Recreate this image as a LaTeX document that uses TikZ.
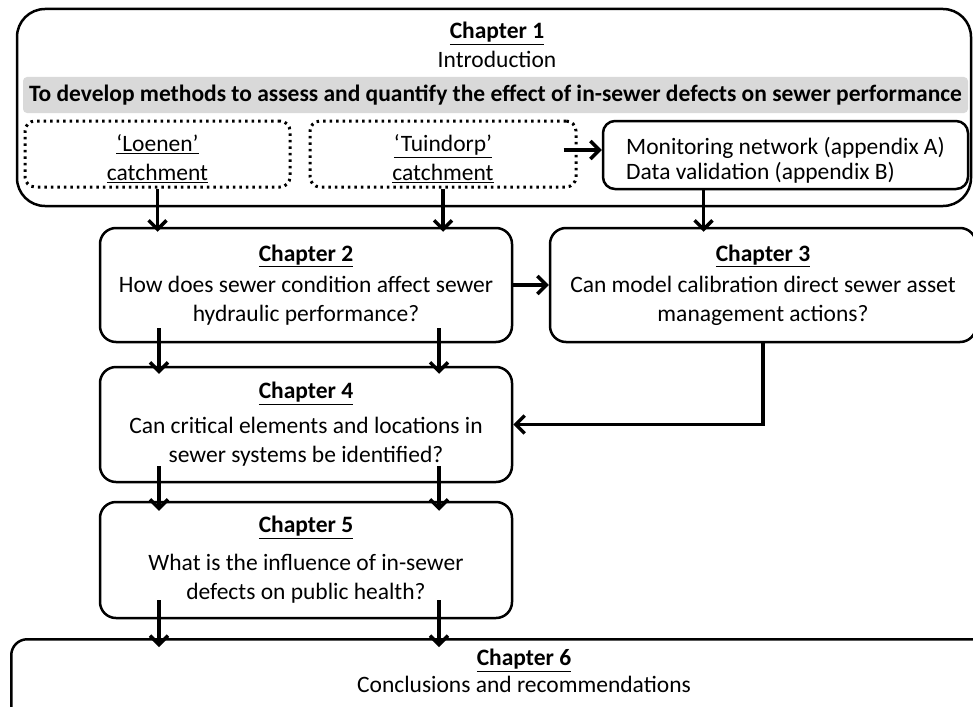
\documentclass[tikz,border=0pt]{standalone}
\usepackage{fontspec}
\setmainfont{Carlito}
\usetikzlibrary{arrows.meta,calc}

\newcommand{\chap}[1]{\underline{\textbf{#1}}}

\begin{document}
\begin{tikzpicture}[x=1pt,y=-1pt,
  font=\fontsize{23.5}{29}\selectfont,
  chapbox/.style={draw,line width=2.5pt,rounded corners=16pt,align=center,inner sep=0pt},
  catbox/.style={draw,line width=3pt,dash pattern=on 2.5pt off 4pt,rounded corners=10pt,inner sep=0pt},
  arr/.style={line width=3.4pt,-{Straight Barb[length=9pt,width=18pt]}}]
\useasboundingbox (0,0) rectangle (973,706);

% chapter 1 with the two catchments
\node[chapbox,rounded corners=28pt,minimum width=954pt,minimum height=197pt] (ch1) at (494,107.5) {};
\node[align=center] (ch1txt) at (497,45) {\chap{Chapter 1}\\Introduction};
\node[fill=black!15,rounded corners=4pt,minimum width=945pt,minimum height=36pt,inner sep=0pt,font=\fontsize{23.5}{24}\selectfont\bfseries] (aim) at (495.5,95) {To develop methods to assess and quantify the effect of in-sewer defects on sewer performance};
\node[catbox,minimum width=265pt,minimum height=66pt] (loenen) at (157.5,154) {};
\node[align=center] (loenentxt) at (157.5,159) {\underline{‘Loenen’}\\\underline{catchment}};
\node[catbox,minimum width=266pt,minimum height=66pt] (tuin) at (443,154) {};
\node[align=center] (tuintxt) at (443,159) {\underline{‘Tuindorp’}\\\underline{catchment}};
\node[chapbox,rounded corners=12pt,minimum width=365pt,minimum height=68pt] (mon) at (785.5,155) {};
\node[align=left,font=\fontsize{23.5}{25}\selectfont] (montxt) at (785.5,160) {Monitoring network (appendix A)\\Data validation (appendix B)};

% the chapters
\node[chapbox,minimum width=412pt,minimum height=114pt] (ch2) at (306,285) {\chap{Chapter 2}\\[2pt]How does sewer condition affect sewer\\hydraulic performance?};
\node[chapbox,minimum width=426pt,minimum height=114pt] (ch3) at (763,285) {\chap{Chapter 3}\\[2pt]Can model calibration direct sewer asset\\management actions?};
\node[chapbox,minimum width=412pt,minimum height=115pt] (ch4) at (306,424.5) {\chap{Chapter 4}\\[6pt]Can critical elements and locations in\\sewer systems be identified?};
\node[chapbox,minimum width=412pt,minimum height=116pt] (ch5) at (306,560) {\chap{Chapter 5}\\[9pt]What is the influence of in-sewer\\defects on public health?};
\node[chapbox,minimum width=985pt,minimum height=100pt,anchor=north west] (ch6) at (10,638) {};
\node[align=center,font=\fontsize{23.5}{27}\selectfont] (ch6txt) at (524,671) {\chap{Chapter 6}\\Conclusions and recommendations};

\coordinate (colA) at (159,0);
\coordinate (colB) at (439,0);

% arrows
\draw[arr] (loenen.south) -- ($(loenen.south |- ch2.north)+(0,5)$);
\draw[arr] (tuin.south) -- ($(tuin.south |- ch2.north)+(0,5)$);
\draw[arr] ($(tuin.east)+(-14,-4)$) -- ($(tuin.east -| mon.west)+(0,-4)$);
\draw[arr] ($(mon.south)+(-82,0)$) -- ($(mon.south |- ch3.north)+(-82,5)$);
\draw[arr] (ch2) -- (ch3);
\draw[arr] (ch3.south) |- (ch4.east);
\foreach \c in {colA,colB} {
  \draw[arr] ($(\c |- ch2.south)+(0,-15)$) -- ($(\c |- ch4.north)+(0,8)$);
  \draw[arr] ($(\c |- ch4.south)+(0,-17)$) -- ($(\c |- ch5.north)+(0,10)$);
  \draw[arr] ($(\c |- ch5.south)+(0,-19)$) -- ($(\c |- ch6.north)+(0,9)$);
}
\end{tikzpicture}
\end{document}
